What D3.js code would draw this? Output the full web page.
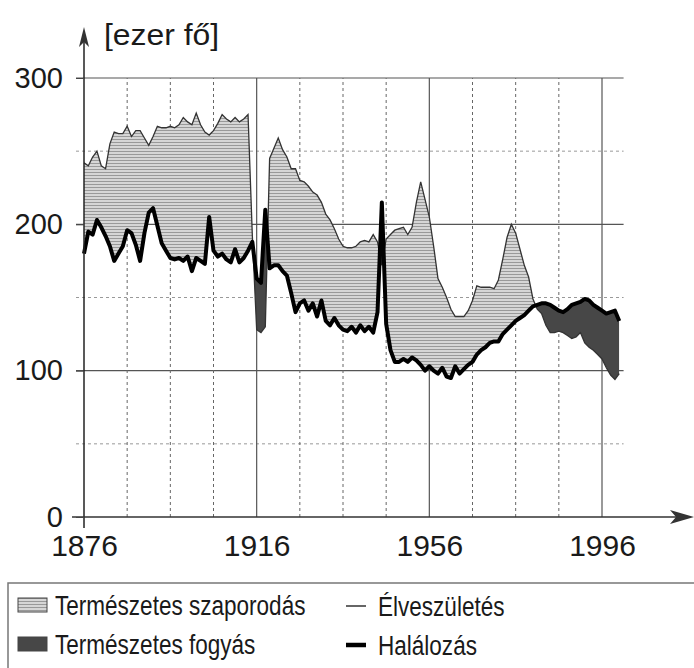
<!DOCTYPE html>
<html lang="hu">
<head>
    <meta charset="UTF-8">
    <title>Élveszületések és halálozások</title>
    <script src="https://d3js.org/d3.v7.min.js"></script>
    <style>
        body { margin: 0; background: #fff; }
        svg text { font-family: "Liberation Sans", Arial, Helvetica, sans-serif; fill: #1a1a1a; }
    </style>
</head>
<body>
    <svg></svg>
    <script>
        // years 1876..2000, values in thousands (ezer fő)
        const years = d3.range(1876, 2001);
        const births = [
            242, 240, 246, 250, 240, 238, 255, 263, 262, 262,   // 1876-1885
            267, 260, 264, 264, 259, 254, 260, 267, 266, 266,   // 1886-1895
            267, 266, 268, 273, 270, 268, 276, 268, 263, 261,   // 1896-1905
            264, 269, 275, 272, 270, 273, 270, 272, 275, 192,   // 1906-1915
            128, 126, 130, 245, 252, 259, 251, 246, 238, 238,   // 1916-1925
            230, 229, 226, 222, 220, 215, 207, 203, 197, 190,   // 1926-1935
            185, 184, 184, 185, 188, 189, 188, 193, 188, 172,   // 1936-1945
            190, 193, 196, 197, 198, 193, 198, 215, 229, 217,   // 1946-1955
            205, 185, 163, 157, 150, 142, 137, 137, 137, 141,   // 1956-1965
            148, 158, 157, 157, 157, 156, 162, 176, 191, 200,   // 1966-1975
            194, 183, 172, 164, 149, 142, 139, 131, 126, 126,   // 1976-1985
            127, 126, 124, 122, 123, 126, 119, 116, 114, 111,   // 1986-1995
            108, 102, 97, 94, 98                                // 1996-2000
        ];
        const deaths = [
            180, 195, 193, 203, 198, 192, 185, 175, 180, 185,
            196, 194, 186, 175, 194, 208, 211, 199, 187, 182,
            177, 176, 177, 175, 178, 168, 177, 175, 173, 205,
            182, 178, 180, 176, 174, 183, 174, 177, 182, 188,
            163, 160, 210, 170, 172, 172, 168, 165, 153, 140,
            146, 148, 141, 146, 137, 148, 134, 131, 136, 131,
            128, 127, 130, 126, 131, 127, 130, 126, 140, 215,
            132, 114, 106, 106, 108, 106, 109, 107, 104, 100,
            103, 100, 98, 102, 96, 95, 103, 98, 101, 104,
            106, 111, 114, 116, 119, 120, 120, 125, 128, 131,
            134, 136, 138, 141, 144, 145, 146, 146, 145, 143,
            141, 140, 142, 145, 146, 147, 149, 148, 145, 143,
            141, 139, 140, 141, 134
        ];
        const yTicks = [0, 100, 200, 300];
        const yDashed = [50, 150, 250];
        const xTicks = [1876, 1916, 1956, 1996];
        const xDashed = [1886, 1896, 1906, 1926, 1936, 1946, 1966, 1976, 1986];
        const legendAreas = ["Természetes szaporodás", "Természetes fogyás"];
        const legendLines = ["Élveszületés", "Halálozás"];

        const width = 694, height = 668;
        const data = years.map((yr, i) => ({ year: yr, b: births[i], d: deaths[i] }));

        const svg = d3.select("svg").attr("width", width).attr("height", height);

        const x = d3.scaleLinear().domain([1876, 1996]).range([84, 602]);
        const y = d3.scaleLinear().domain([0, 300]).range([517, 78]);
        const xEnd = x(2001);

        const defs = svg.append("defs");
        const hatch = defs.append("pattern")
            .attr("id", "hatch")
            .attr("patternUnits", "userSpaceOnUse")
            .attr("width", 4).attr("height", 3);
        hatch.append("rect").attr("width", 4).attr("height", 3).attr("fill", "#d6d6d6");
        hatch.append("rect").attr("y", 1).attr("width", 4).attr("height", 1).attr("fill", "#999");

        // clip regions: everything above a curve
        defs.append("clipPath").attr("id", "aboveDeaths")
            .append("path").datum(data)
            .attr("d", d3.area().x(d => x(d.year)).y0(0).y1(d => y(d.d)));
        defs.append("clipPath").attr("id", "aboveBirths")
            .append("path").datum(data)
            .attr("d", d3.area().x(d => x(d.year)).y0(0).y1(d => y(d.b)));

        // grid
        const grid = svg.append("g");
        grid.selectAll(".hs").data(yTicks.filter(v => v > 0)).join("line")
            .attr("x1", x(1876) - 8).attr("x2", xEnd)
            .attr("y1", d => y(d)).attr("y2", d => y(d))
            .attr("stroke", "#555").attr("stroke-width", 1.2);
        grid.selectAll(".hd").data(yDashed).join("line")
            .attr("x1", x(1876) - 8).attr("x2", xEnd)
            .attr("y1", d => y(d)).attr("y2", d => y(d))
            .attr("stroke", "#999").attr("stroke-width", 1)
            .attr("stroke-dasharray", "3,3");
        grid.selectAll(".vs").data(xTicks.slice(1)).join("line")
            .attr("x1", d => x(d)).attr("x2", d => x(d))
            .attr("y1", y(0)).attr("y2", y(300))
            .attr("stroke", "#555").attr("stroke-width", 1.2);
        grid.selectAll(".vd").data(xDashed).join("line")
            .attr("x1", d => x(d)).attr("x2", d => x(d))
            .attr("y1", y(0)).attr("y2", y(300))
            .attr("stroke", "#666").attr("stroke-width", 1)
            .attr("stroke-dasharray", "3,3");

        // natural increase (births above deaths)
        svg.append("path").datum(data)
            .attr("clip-path", "url(#aboveDeaths)")
            .attr("fill", "url(#hatch)")
            .attr("d", d3.area().x(d => x(d.year)).y0(y(0)).y1(d => y(d.b)));
        // natural decrease (deaths above births)
        svg.append("path").datum(data)
            .attr("clip-path", "url(#aboveBirths)")
            .attr("fill", "#474747")
            .attr("d", d3.area().x(d => x(d.year)).y0(y(0)).y1(d => y(d.d)));

        svg.append("path").datum(data)
            .attr("fill", "none").attr("stroke", "#333").attr("stroke-width", 1.3)
            .attr("d", d3.line().x(d => x(d.year)).y(d => y(d.b)));
        svg.append("path").datum(data)
            .attr("fill", "none").attr("stroke", "#000").attr("stroke-width", 4)
            .attr("stroke-linejoin", "round")
            .attr("d", d3.line().x(d => x(d.year)).y(d => y(d.d)));

        // axes
        svg.append("line")
            .attr("x1", x(1876)).attr("x2", x(1876))
            .attr("y1", y(0) + 11).attr("y2", 40)
            .attr("stroke", "#222").attr("stroke-width", 1.5);
        svg.append("path")
            .attr("d", `M${x(1876)},27 L${x(1876) - 5},47 L${x(1876)},42 L${x(1876) + 5},47 Z`)
            .attr("fill", "#333");
        svg.append("line")
            .attr("x1", x(1876) - 12).attr("x2", 680)
            .attr("y1", y(0)).attr("y2", y(0))
            .attr("stroke", "#333").attr("stroke-width", 1.5);
        svg.append("path")
            .attr("d", `M694,${y(0)} L670,${y(0) - 7} L676,${y(0)} L670,${y(0) + 7} Z`)
            .attr("fill", "#333");

        const yAxis = svg.append("g")
            .attr("transform", `translate(${x(1876)},0)`)
            .call(d3.axisLeft(y).tickValues(yTicks).tickSize(8).tickPadding(13));
        yAxis.select(".domain").remove();
        yAxis.selectAll("line").attr("stroke", "#444");
        yAxis.selectAll("text").style("font-size", "29px").attr("fill", "#1a1a1a");

        const xAxis = svg.append("g")
            .attr("transform", `translate(0,${y(0)})`)
            .call(d3.axisBottom(x).tickValues(xTicks).tickFormat(d3.format("d")).tickSize(0).tickPadding(18));
        xAxis.select(".domain").remove();
        xAxis.selectAll("text").style("font-size", "30px").attr("fill", "#1a1a1a");

        svg.append("text")
            .attr("transform", "translate(104,45) scale(1.1,1)")
            .style("font-size", "29px")
            .text("[ezer fő]");

        // legend
        svg.append("rect")
            .attr("x", 8).attr("y", 583).attr("width", 700).attr("height", 100)
            .attr("fill", "none").attr("stroke", "#777").attr("stroke-width", 1.5);
        const swatchFill = ["url(#hatch)", "#474747"];
        legendAreas.forEach((label, i) => {
            const cy = 605 + i * 39;
            svg.append("rect")
                .attr("x", 18).attr("y", cy - 7).attr("width", 29).attr("height", 14)
                .attr("fill", swatchFill[i]).attr("stroke", "#444").attr("stroke-width", 1);
            svg.append("text")
                .attr("transform", `translate(55,${cy + 10}) scale(0.82,1)`)
                .style("font-size", "27.5px")
                .text(label);
        });
        const lineWidths = [2, 4.5];
        const lineColors = ["#666", "#000"];
        legendLines.forEach((label, i) => {
            const cy = 606 + i * 39;
            svg.append("line")
                .attr("x1", 346).attr("x2", 366).attr("y1", cy).attr("y2", cy)
                .attr("stroke", lineColors[i]).attr("stroke-width", lineWidths[i]);
            svg.append("text")
                .attr("transform", `translate(378,${cy + 10}) scale(0.82,1)`)
                .style("font-size", "27.5px")
                .text(label);
        });
    </script>
</body>
</html>
